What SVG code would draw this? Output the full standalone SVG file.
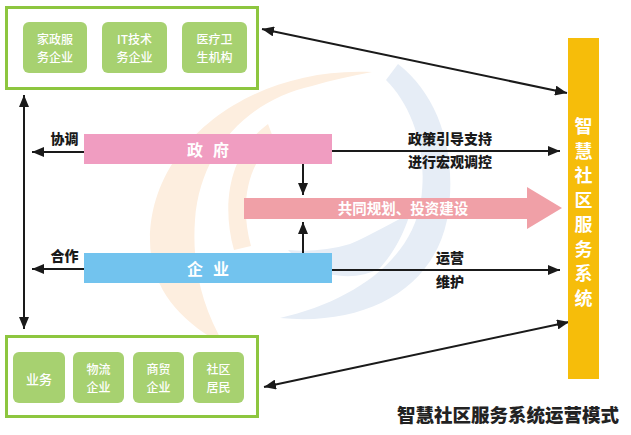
<svg xmlns="http://www.w3.org/2000/svg" width="631" height="435" viewBox="0 0 631 435">
<defs>
<marker id="ah" viewBox="0 0 12 10" refX="12" refY="5" markerWidth="12" markerHeight="10" markerUnits="userSpaceOnUse" orient="auto-start-reverse">
<path d="M0,0 L12,5 L0,10 Z" fill="#1a1a1a"/>
</marker>
<style>
.frame{fill:#fff;stroke:#8dc63f;stroke-width:3}
.cell{fill:#a7d170}
.ct{font-family:"Noto Sans CJK SC","Noto Sans",sans-serif;font-size:13px;fill:#fff;text-anchor:middle;font-weight:500}
.cs{font-size:12px}
.ln{stroke:#1a1a1a;stroke-width:2;fill:none}
.lb{font-family:"Noto Sans CJK SC","Noto Sans",sans-serif;font-size:14px;font-weight:900;fill:#1a1a1a;text-anchor:middle}
.wt{font-family:"Noto Sans CJK SC","Noto Sans",sans-serif;font-weight:bold;fill:#fff;text-anchor:middle}
</style>
</defs>
<rect width="631" height="435" fill="#fff"/>
<g id="background">
<path d="M372,72 C255,66 150,140 150,240 C150,290 182,322 225,346 C200,304 192,262 195,220 C200,150 248,100 312,86 C332,80 352,76 372,72 Z" fill="#fdeedf"/>
<path d="M268,124 C232,150 220,200 234,250 L251,246 C240,206 246,166 274,140 Z" fill="#fdeedf"/>
<path d="M398,64 C442,98 458,160 447,220 C432,292 362,326 280,318 C350,302 412,262 421,200 C428,150 412,106 386,80 Z" fill="#e6edf6"/>
<path d="M288,250 C312,276 352,284 380,268 C396,250 404,232 410,214 C392,222 370,236 350,244 C330,250 308,252 288,250 Z" fill="#e6edf6"/>
</g>
<g id="connectors">
<line class="ln" x1="24" y1="95" x2="24" y2="329" marker-start="url(#ah)" marker-end="url(#ah)"/>
<line class="ln" x1="262" y1="29" x2="567" y2="93" marker-start="url(#ah)" marker-end="url(#ah)"/>
<line class="ln" x1="264" y1="387" x2="569" y2="322" marker-start="url(#ah)" marker-end="url(#ah)"/>
<line class="ln" x1="84" y1="152" x2="32" y2="152" marker-end="url(#ah)"/>
<line class="ln" x1="84" y1="269" x2="32" y2="269" marker-end="url(#ah)"/>
<line class="ln" x1="332" y1="151" x2="560" y2="151" marker-end="url(#ah)"/>
<line class="ln" x1="332" y1="270" x2="560" y2="270" marker-end="url(#ah)"/>
<line class="ln" x1="303" y1="164" x2="303" y2="195" marker-end="url(#ah)"/>
<line class="ln" x1="303" y1="253" x2="303" y2="222" marker-end="url(#ah)"/>
</g>
<g id="top-group">
<rect class="frame" x="6.5" y="7.5" width="251" height="81"/>
<rect class="cell" x="23" y="22" width="64" height="51" rx="6"/>
<rect class="cell" x="102" y="22" width="65" height="51" rx="6"/>
<rect class="cell" x="182" y="22" width="65" height="51" rx="6"/>
<text class="ct cs" x="55" y="44">家政服</text>
<text class="ct cs" x="55" y="61.5">务企业</text>
<text class="ct cs" x="134.5" y="44">IT技术</text>
<text class="ct cs" x="134.5" y="61.5">务企业</text>
<text class="ct cs" x="214.5" y="44">医疗卫</text>
<text class="ct cs" x="214.5" y="61.5">生机构</text>
</g>
<g id="bottom-group">
<rect class="frame" x="6.5" y="336.5" width="251" height="80"/>
<rect class="cell" x="13" y="352" width="52" height="51" rx="6"/>
<rect class="cell" x="73" y="352" width="51" height="51" rx="6"/>
<rect class="cell" x="133" y="352" width="51" height="51" rx="6"/>
<rect class="cell" x="193" y="352" width="51" height="51" rx="6"/>
<text class="ct" x="39" y="384">业务</text>
<text class="ct cs" x="98.5" y="374">物流</text>
<text class="ct cs" x="98.5" y="391.5">企业</text>
<text class="ct cs" x="158.5" y="374">商贸</text>
<text class="ct cs" x="158.5" y="391.5">企业</text>
<text class="ct cs" x="218.5" y="374">社区</text>
<text class="ct cs" x="218.5" y="391.5">居民</text>
</g>
<g id="government">
<rect x="84" y="134" width="248" height="30" fill="#f09dc1"/>
<text class="wt" x="213" y="155.5" font-size="16" letter-spacing="10">政府</text>
<text class="lb" x="64.5" y="144">协调</text>
</g>
<g id="enterprise">
<rect x="84" y="253" width="248" height="30" fill="#72c3ee"/>
<text class="wt" x="213" y="274.5" font-size="16" letter-spacing="10">企业</text>
<text class="lb" x="64.5" y="261">合作</text>
</g>
<g id="joint-arrow">
<path d="M244,198 L527,198 L527,187 L562,208 L527,229 L527,219 L244,219 Z" fill="#f0a0a7"/>
<text class="wt" x="403" y="214" font-size="14.5">共同规划、投资建设</text>
</g>
<g id="labels">
<text class="lb" x="450" y="144">政策引导支持</text>
<text class="lb" x="450" y="167">进行宏观调控</text>
<text class="lb" x="450" y="263">运营</text>
<text class="lb" x="450" y="287">维护</text>
</g>
<g id="system">
<rect x="568" y="38" width="31" height="341" fill="#f6bd0a"/>
<g class="wt" font-size="18">
<text x="583.5" y="133">智</text>
<text x="583.5" y="157.5">慧</text>
<text x="583.5" y="182">社</text>
<text x="583.5" y="206.5">区</text>
<text x="583.5" y="231">服</text>
<text x="583.5" y="255.5">务</text>
<text x="583.5" y="280">系</text>
<text x="583.5" y="304.5">统</text>
</g>
</g>
<text id="title" x="508" y="422" font-family="'Noto Sans CJK SC','Noto Sans',sans-serif" font-size="18.5" font-weight="900" fill="#222" text-anchor="middle">智慧社区服务系统运营模式</text>
</svg>
